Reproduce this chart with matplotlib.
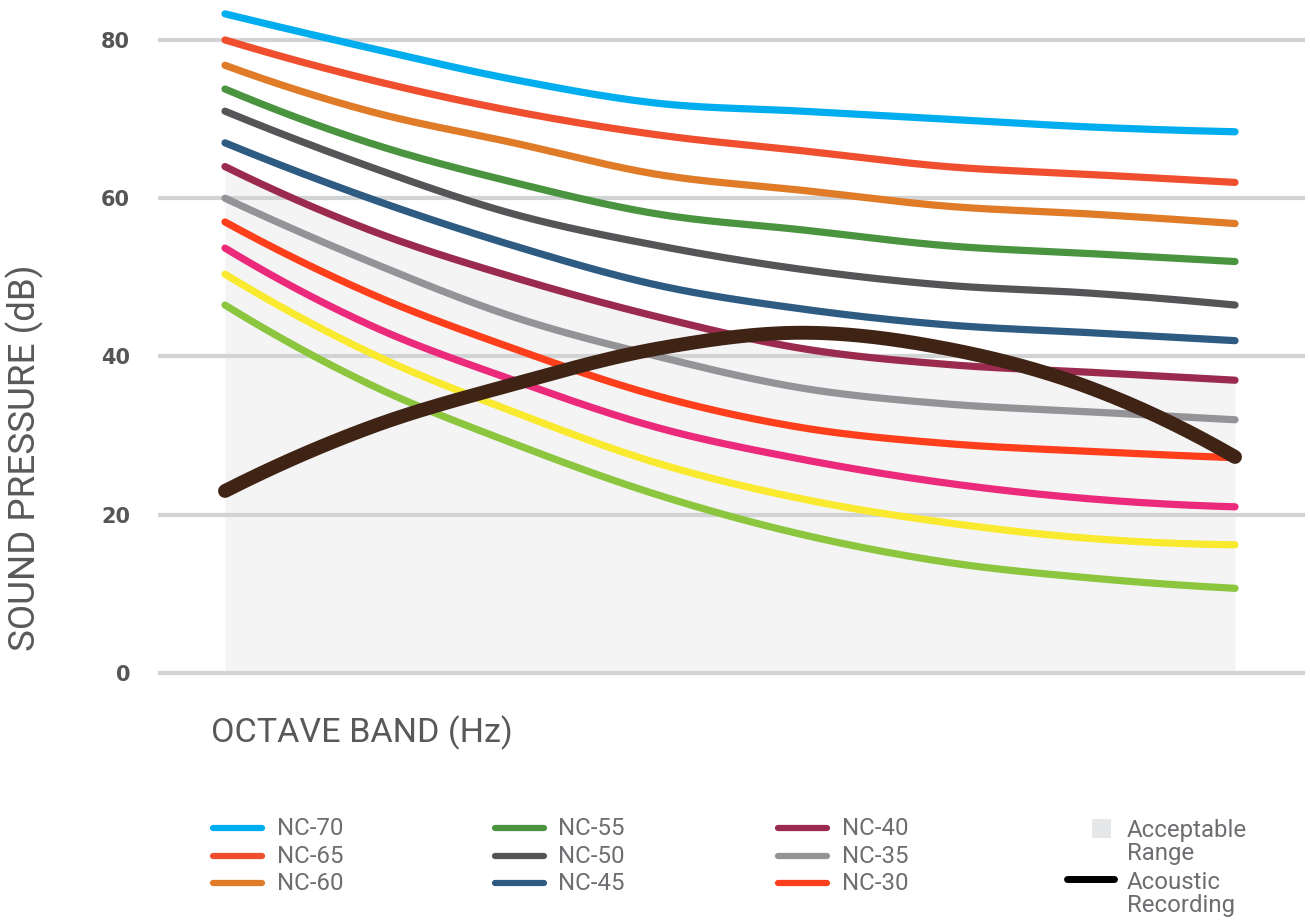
import numpy as np
import matplotlib
matplotlib.use("Agg")
import matplotlib.pyplot as plt
from matplotlib.lines import Line2D
from matplotlib.patches import Rectangle

# ---- data ----
bands = ["63", "125", "250", "500", "1k", "2k", "4k", "8k"]
nc70 = [83.3, 79, 75, 72, 71, 70, 69, 68.4]
nc65 = [80, 75, 71, 68, 66, 64, 63, 62]
nc60 = [76.8, 71, 67, 63, 61, 59, 58, 56.8]
nc55 = [73.8, 67, 62, 58, 56, 54, 53, 52]
nc50 = [71, 64, 58, 54, 51, 49, 48, 46.5]
nc45 = [67, 60, 54, 49, 46, 44, 43, 42]
nc40 = [64, 56, 50, 45, 41, 39, 38, 37]
nc35 = [60, 52, 45, 40, 36, 34, 33, 32]
nc30 = [57, 48, 41, 35, 31, 29, 28, 27.2]
nc25 = [53.7, 44, 37, 31, 27, 24, 22, 21]
nc20 = [50.4, 40.5, 33, 26.5, 22, 19, 17, 16.2]
nc15 = [46.5, 36.5, 29, 22.5, 17.5, 14, 12, 10.7]
recording = [23, 31, 36.5, 41, 43, 41, 36, 27.3]
yticks = [0, 20, 40, 60, 80]

series = [
    ("NC-70", nc70, "#00AEEF"),
    ("NC-65", nc65, "#EF4F2F"),
    ("NC-60", nc60, "#E07B27"),
    ("NC-55", nc55, "#4A9440"),
    ("NC-50", nc50, "#555558"),
    ("NC-45", nc45, "#2E5B82"),
    ("NC-40", nc40, "#9A2A4E"),
    ("NC-35", nc35, "#939398"),
    ("NC-30", nc30, "#FF3F1C"),
    ("NC-25", nc25, "#EC2A7B"),
    ("NC-20", nc20, "#F9EA2F"),
    ("NC-15", nc15, "#8CC63F"),
]
rec_color = "#3F2416"


def smooth(y, n=40):
    """Cubic Hermite curve through the points (Catmull-Rom tangents)."""
    y = np.asarray(y, float)
    x = np.arange(len(y), dtype=float)
    m = np.zeros_like(y)
    m[1:-1] = (y[2:] - y[:-2]) / 2.0
    m[0] = (-3 * y[0] + 4 * y[1] - y[2]) / 2.0
    m[-1] = (3 * y[-1] - 4 * y[-2] + y[-3]) / 2.0
    xs, ys = [], []
    for i in range(len(y) - 1):
        t = np.linspace(0, 1, n, endpoint=(i == len(y) - 2))
        h00 = 2 * t**3 - 3 * t**2 + 1
        h10 = t**3 - 2 * t**2 + t
        h01 = -2 * t**3 + 3 * t**2
        h11 = t**3 - t**2
        xs.append(x[i] + t)
        ys.append(h00 * y[i] + h10 * m[i] + h01 * y[i + 1] + h11 * m[i + 1])
    return np.concatenate(xs), np.concatenate(ys)


W, H = 1310, 922
fig = plt.figure(figsize=(W / 100, H / 100), dpi=100)

# axes placement (pixels)
ax_left, ax_right = 158, 1305
ax_top, ax_bot = 0.4, 680.9
ax = fig.add_axes([ax_left / W, 1 - ax_bot / H, (ax_right - ax_left) / W, (ax_bot - ax_top) / H])
ax.set_xlim(-0.4644, 7.485)
ax.set_ylim(-1, 85)

for s in ax.spines.values():
    s.set_visible(False)
ax.set_xticks([])
ax.set_yticks(yticks)
ax.set_yticklabels([str(v) for v in yticks], fontfamily="DejaVu Sans", fontweight="bold",
                   fontsize=15, color="#555555")
ax.tick_params(axis="y", length=0, pad=20)
ax.grid(axis="y", color="#D1D3D4", linewidth=3.0, zorder=1)
ax.set_axisbelow(False)

# acceptable range: area under NC-40
xs, ys40 = smooth(nc40)
ax.fill_between(xs, 0, ys40, color="#F4F4F4", linewidth=0, zorder=0.5)

for name, vals, col in series:
    sx, sy = smooth(vals)
    ax.plot(sx, sy, color=col, linewidth=5.2, solid_capstyle="round", zorder=3)

rx, ry = smooth(recording)
ax.plot(rx, ry, color=rec_color, linewidth=10, solid_capstyle="round", zorder=4)

# axis titles
fig.text(25 / W, 1 - 458 / H, "SOUND PRESSURE (dB)", rotation=90, ha="center", va="center",
         fontfamily="Roboto", fontsize=26.5, color="#58595B")
fig.text(211 / W, 1 - 733 / H, "OCTAVE BAND (Hz)", ha="left", va="center",
         fontfamily="Roboto", fontsize=24.6, color="#58595B")

# legend (manual layout)
leg_font = dict(fontfamily="Roboto", fontsize=17.3, color="#6D6E71")
cols = [(213, 277), (495, 558), (778, 842)]
rows = [828, 856, 883]
for i, (name, vals, col) in enumerate(series[:9]):
    c, r = divmod(i, 3)
    hx, tx = cols[c]
    yy = 1 - rows[r] / H
    fig.add_artist(Line2D([hx / W, (hx + 49) / W], [yy, yy], color=col, linewidth=4.5,
                          solid_capstyle="round", transform=fig.transFigure))
    fig.text(tx / W, yy, name, ha="left", va="center", **leg_font)

fig.add_artist(Rectangle((1092 / W, 1 - 838 / H), 19 / W, 19 / H, color="#E6E7E8",
                         transform=fig.transFigure, linewidth=0))
fig.text(1127 / W, 1 - 842 / H, "Acceptable\nRange", ha="left", va="center",
         linespacing=1.05, **leg_font)
fig.add_artist(Line2D([1067 / W, 1114 / W], [1 - 879 / H, 1 - 879 / H], color="black",
                      linewidth=5, solid_capstyle="round", transform=fig.transFigure))
fig.text(1127 / W, 1 - 894 / H, "Acoustic\nRecording", ha="left", va="center",
         linespacing=1.05, **leg_font)

fig.savefig("out.png", dpi=100, facecolor="white")
